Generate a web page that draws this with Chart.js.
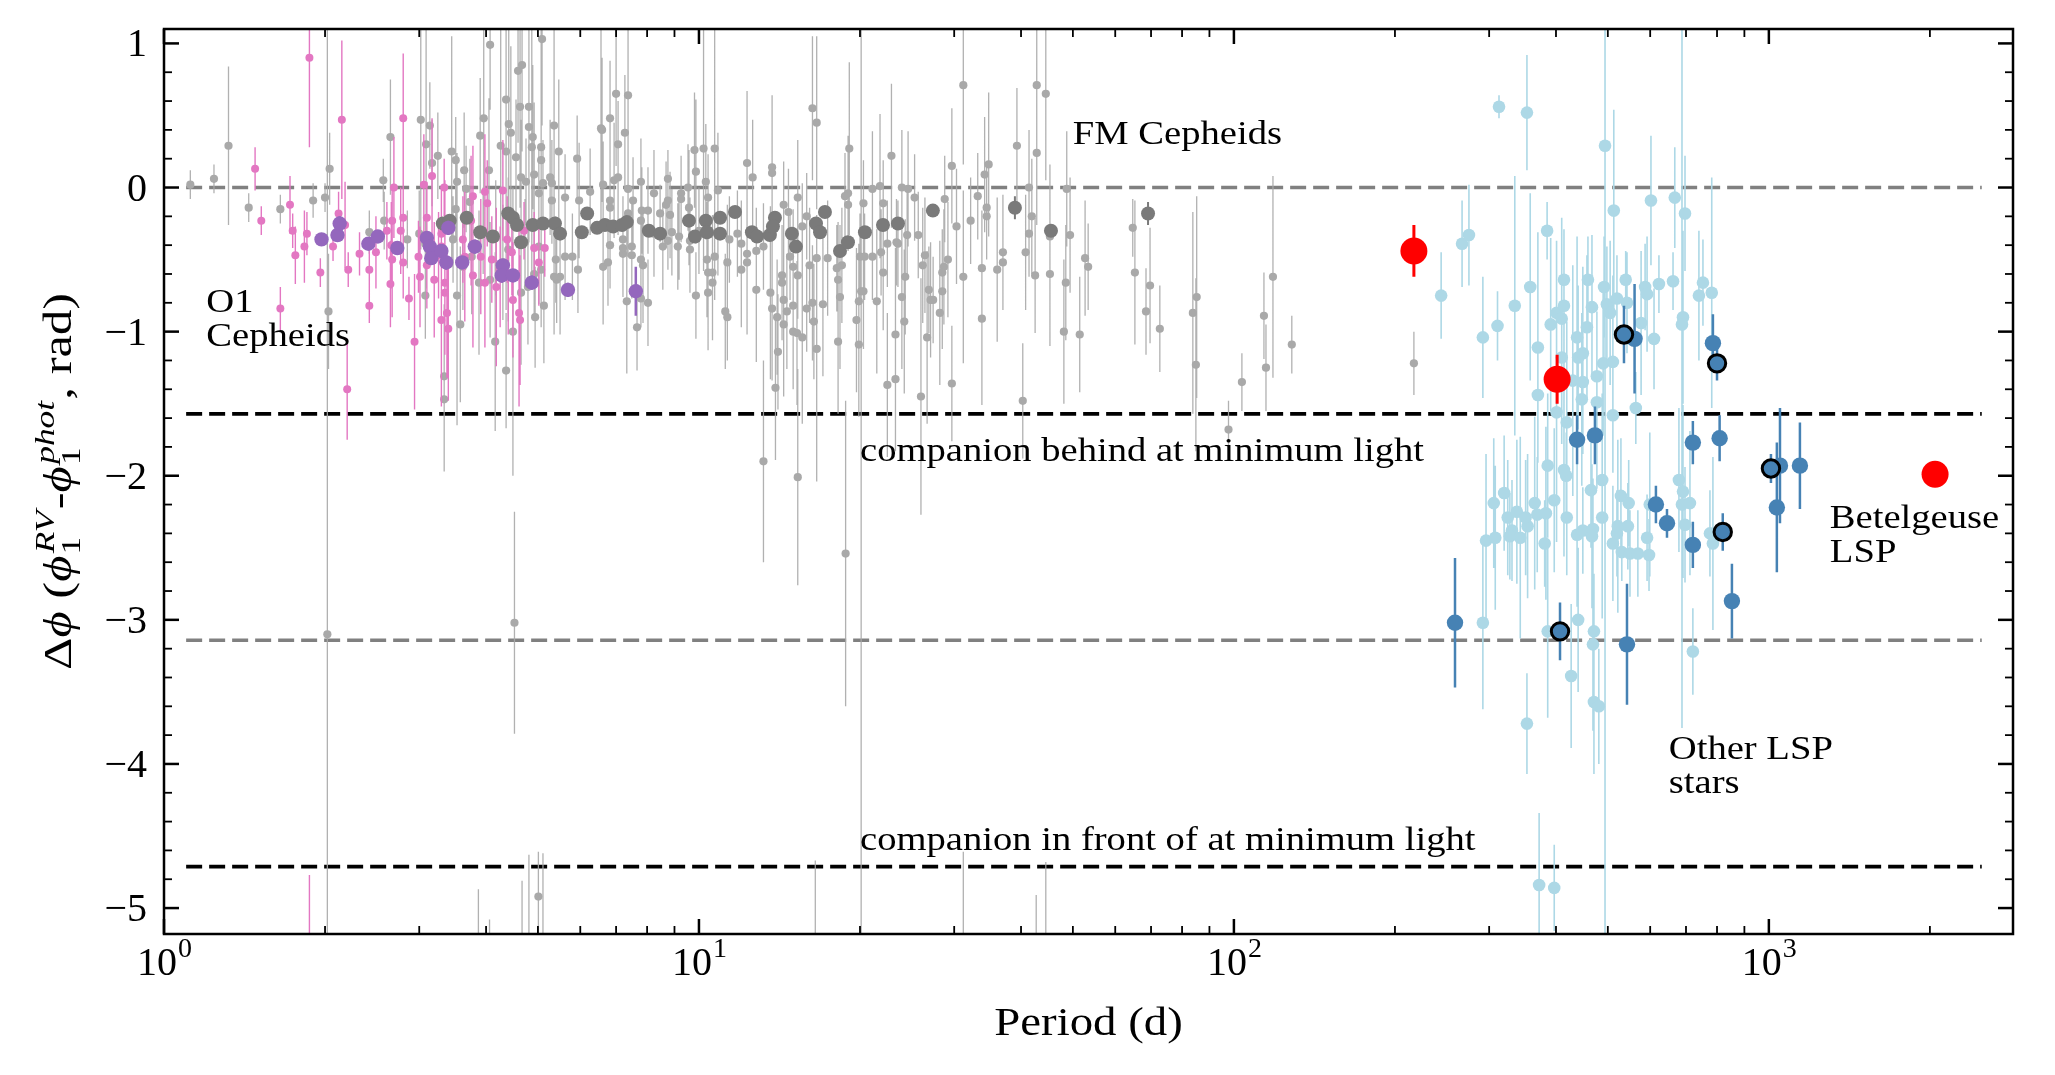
<!DOCTYPE html>
<html>
<head>
<meta charset="utf-8">
<title>Phase lag vs period</title>
<script src="https://cdn.jsdelivr.net/npm/chart.js@4.4.1/dist/chart.umd.min.js"></script>
<style>
  html, body { margin: 0; padding: 0; background: #fff; }
  canvas { display: block; }
</style>
</head>
<body>
<canvas id="chart" width="2055" height="1075"></canvas>
<script>
// --- DATA: each row is [period (d), delta phi (rad), error (rad)] ---

// FM Cepheids, single stars (light grey)
const fmStars = [
  [1.12,0.02,0.10],[1.24,0.06,0.10],[1.32,0.29,0.55],[1.44,-0.14,0.10],[1.65,-0.15,0.10],[1.90,-0.09,0.12],
  [2.00,-0.07,0.10],[2.04,0.13,0.25],[2.03,-0.86,0.40],[2.57,0.05,0.15],[2.65,0.35,0.40],[2.58,-0.23,0.20],
  [2.42,-0.31,0.15],[3.02,0.47,0.90],[3.14,0.43,0.30],[3.09,0.30,1.00],[3.25,0.22,0.30],[3.45,0.25,0.80],
  [3.51,0.19,0.30],[3.17,0.17,0.30],[3.08,-0.75,0.30],[3.53,-0.75,0.90],[3.58,-0.95,0.54],[3.34,-1.31,0.50],
  [3.34,-1.47,0.50],[4.07,0.99,0.45],[4.59,0.81,0.50],[4.67,0.85,0.60],[5.09,1.03,0.60],[4.36,0.61,0.60],
  [4.63,0.56,0.70],[4.81,0.56,0.60],[3.96,0.48,0.75],[4.41,0.44,1.00],[4.81,0.42,0.80],[3.90,0.36,0.40],
  [4.45,0.38,0.60],[5.36,0.43,0.75],[4.26,0.29,0.85],[4.36,0.25,1.10],[4.87,0.28,0.90],[5.07,0.28,0.85],
  [4.55,0.21,0.40],[5.07,0.19,0.90],[5.47,0.25,0.50],[5.92,0.20,0.30],[6.56,0.41,0.70],[6.82,0.48,0.40],
  [7.00,0.65,0.50],[7.37,0.64,0.60],[7.27,0.38,0.40],[7.06,0.30,0.30],[8.75,0.06,0.20],[9.81,0.26,0.40],
  [5.80,-0.48,0.30],[5.42,-0.64,0.30],[5.13,-0.82,0.40],[4.94,-0.90,0.35],[4.16,-1.07,0.62],[4.36,-1.27,0.40],
  [4.49,-1.00,1.00],[7.79,-0.77,0.20],[8.03,-0.80,0.30],[7.66,-0.97,0.30],[9.87,-0.75,0.30],[3.53,0.04,0.20],
  [3.67,-0.01,0.30],[3.73,-0.10,0.30],[3.51,-0.15,0.20],[4.65,0.07,0.40],[4.75,0.04,0.30],[4.92,0.09,0.50],
  [5.02,-0.04,0.30],[5.31,-0.09,0.30],[5.62,-0.07,0.30],[5.97,-0.09,0.40],[6.26,-0.03,0.30],[6.62,0.02,0.30],
  [6.94,0.05,0.40],[7.37,-0.01,0.20],[7.79,0.04,0.30],[8.24,-0.04,0.30],[8.75,-0.09,0.30],[9.26,-0.04,0.20],
  [9.54,0.00,0.30],[7.37,-0.18,0.30],[7.79,-0.23,0.30],[8.24,-0.32,0.30],[8.75,-0.37,0.20],[9.62,-0.37,0.30],
  [7.21,-0.46,0.30],[7.79,-0.50,0.30],[8.56,-0.41,0.30],[4.73,-0.38,0.30],[5.02,-0.41,0.40],[5.40,-0.50,0.30],
  [5.36,-0.62,0.40],[5.62,-0.48,0.30],[3.95,-0.30,0.30],[4.17,-0.35,0.40],[4.40,-0.43,0.50],[4.30,-0.52,0.40],
  [3.62,-0.55,0.30],[3.76,-0.48,0.40],[3.88,-0.66,0.50],[4.07,-0.64,0.40],[4.65,-0.73,0.50],[4.79,-0.69,0.40],
  [4.92,-0.60,0.30],[5.07,-0.57,0.40],[2.85,-0.36,0.20],[3.00,-0.32,0.30],[3.08,-0.39,0.20],[3.47,-0.36,0.30],
  [6.59,0.40,0.50],[7.06,0.07,0.40],[9.26,-0.08,0.30],[9.58,-0.14,0.40],[10.2,0.27,0.85],[10.7,0.27,0.85],
  [9.87,0.11,0.50],[10.3,0.04,0.40],[8.68,-0.12,0.30],[8.46,-0.18,0.20],[8.83,-0.19,0.30],[6.82,-0.09,0.30],
  [6.82,-0.14,0.30],[7.53,-0.09,0.30],[7.82,-0.16,0.30],[8.03,-0.16,0.30],[6.62,-0.55,0.40],[6.76,-0.52,0.30],
  [7.33,-0.79,0.50],[7.86,-0.54,0.40],[7.21,-0.42,0.30],[7.49,-0.47,0.30],[6.82,-0.40,0.30],[7.21,-0.36,0.30],
  [7.49,-0.41,0.30],[9.13,-0.41,0.30],[9.62,-0.43,0.30],[9.18,-0.34,0.30],[8.90,-0.31,0.30],[10.4,-0.73,0.40],
  [10.35,-0.50,0.40],[10.7,-0.48,0.30],[10.4,-0.59,0.30],[10.6,-0.59,0.40],[10.6,-0.66,0.40],[11.2,-0.86,0.40],
  [11.3,-0.90,0.30],[11.3,-0.52,0.40],[10.4,-0.07,0.30],[10.85,-0.02,0.40],[11.4,-0.36,0.30],[11.8,-0.32,0.30],
  [12.0,-0.39,0.30],[12.3,0.17,0.50],[12.6,0.07,0.40],[12.3,-0.46,0.40],[12.3,-0.52,0.50],[12.0,-0.57,0.40],
  [12.8,-0.71,0.50],[12.8,-0.44,0.30],[13.2,-0.41,0.30],[13.7,0.14,0.50],[13.7,0.10,0.40],[13.6,-0.73,0.60],
  [13.7,-0.84,0.50],[14.0,-0.90,0.40],[14.05,-1.14,0.40],[14.3,-0.61,0.30],[14.3,-0.66,0.40],[14.4,-0.78,0.50],
  [14.6,-0.86,0.40],[14.4,-0.95,0.50],[15.0,-0.82,0.50],[15.0,-1.00,0.40],[15.25,-1.01,0.50],[15.6,-1.04,0.60],
  [14.8,-0.48,0.30],[15.0,-0.55,0.40],[15.3,-0.61,0.30],[14.4,-0.12,0.30],[14.7,-0.17,0.30],[15.3,-0.07,0.40],
  [15.6,-0.27,0.30],[15.9,-0.20,0.30],[16.1,-0.54,0.40],[16.6,-0.49,0.30],[17.05,-0.81,0.50],[16.4,-0.93,0.40],
  [16.6,-1.12,0.92],[15.9,-0.84,0.30],[16.3,-0.80,0.40],[17.4,-0.49,0.40],[18.1,-0.56,0.30],[18.2,-0.64,0.40],
  [18.35,-0.76,0.50],[18.2,-1.07,0.50],[18.5,-0.54,0.40],[16.3,0.55,0.50],[16.6,0.45,0.60],[19.1,0.27,0.60],
  [19.0,-0.04,0.40],[19.0,-0.12,0.30],[20.3,-0.11,0.30],[19.7,-0.92,0.50],[19.9,-0.79,0.40],[20.3,-0.72,0.40],
  [19.9,-1.09,0.50],[20.1,-0.72,6.00],[21.5,-0.79,0.50],[21.1,-0.01,0.40],[22.1,-0.11,0.30],[21.8,0.01,0.50],
  [20.0,-0.48,0.30],[20.4,-0.48,0.30],[21.1,-0.48,0.30],[21.9,-0.45,0.30],[22.5,-0.39,0.30],[23.4,-0.38,0.30],
  [22.9,0.22,0.50],[23.95,0.00,0.40],[24.6,-0.01,0.40],[25.3,-0.07,0.30],[25.7,-0.33,0.30],[23.95,-0.76,0.50],
  [24.2,-0.93,0.50],[23.3,-1.02,0.60],[23.55,-0.39,0.30],[24.5,-0.33,0.30],[26.2,-0.54,0.40],[26.45,-0.47,0.40],
  [26.7,-1.04,0.60],[31.2,0.71,0.55],[42.8,0.71,0.60],[44.5,0.65,0.60],[39.3,0.29,0.40],[42.8,0.24,0.50],
  [34.8,0.16,0.50],[34.2,0.09,0.40],[29.7,0.15,0.40],[33.2,-0.06,0.30],[34.5,-0.14,0.30],[34.5,-0.20,0.30],
  [41.4,0.00,0.40],[41.9,-0.20,0.40],[41.4,-0.32,0.30],[40.8,-0.45,0.40],[42.5,-0.61,0.40],[45.3,-0.60,0.50],
  [48.7,-0.01,0.40],[49.4,-0.33,0.40],[48.5,-0.66,0.40],[48.1,-1.00,0.50],[51.5,-1.02,0.40],[52.7,-0.49,0.40],
  [53.4,-0.55,0.30],[40.3,-1.48,0.40],[64.7,-0.28,0.20],[65.3,-0.59,0.50],[69.7,-0.68,0.40],[68.5,-0.86,0.30],
  [72.7,-0.98,0.30],[83.8,-0.87,0.70],[85.2,-0.76,0.70],[84.9,-1.23,0.60],[97.7,-1.68,0.20],[103.5,-1.35,0.20],
  [113.8,-0.89,0.30],[114.8,-1.25,0.30],[118.3,-0.62,0.70],[128.3,-1.09,0.20],[31.2,-0.62,0.60],[33.8,-0.91,0.60],
  [29.7,-1.36,0.40],[26.0,-1.45,0.82],[22.5,-1.37,0.50],[23.3,-1.33,0.50],[13.2,-1.90,0.70],[13.9,-1.39,0.50],
  [15.3,-2.01,0.75],[24.3,-0.62,0.40],[27.1,-0.78,0.40],[26.9,-0.71,0.30],[28.2,-0.87,0.50],[28.5,-0.72,0.40],
  [22.1,-0.59,0.40],[18.75,-0.06,0.30],[10.85,-0.31,0.30],[10.0,-0.30,0.30],[28.8,-0.08,0.30],[30.3,-0.27,0.40],
  [32.2,-0.23,0.30],[29.2,-0.50,0.40],[28.7,-0.55,0.40],[28.5,-0.59,0.30],[27.4,-0.78,0.30],[33.8,-0.56,0.40],
  [36.1,-0.57,0.50],[37.0,-0.52,0.30],[37.0,-0.45,0.40],[45.3,-0.34,0.50],[217,-1.22,0.22],
  [3.64,0.12,0.40],[4.05,0.12,0.50],[4.89,0.35,0.50],[5.27,0.07,0.40],[5.11,0.03,0.30],[5.31,0.03,0.30],
  [5.94,-0.57,0.30],[5.50,-0.62,0.40],
  [2.02,-3.10,6.00],[4.52,-3.02,0.77],[5.01,-4.92,0.31],[18.8,-2.54,1.06],
  [3.87,-5.6,0.73],[4.06,-5.5,0.42],[4.67,-5.6,0.79],[4.81,-5.5,0.87],[5.11,-5.6,0.98],[16.5,-5.7,1.03],
  [31.2,-5.6,0.99],[42.7,-5.6,0.69],[44.5,-5.7,1.02]
];

// O1 Cepheids, single stars (pink)
const o1Stars = [
  [1.87,0.90,0.62],[2.15,0.47,0.55],[2.80,0.48,0.45],[1.48,0.13,0.15],[1.72,-0.12,0.20],[1.52,-0.23,0.10],
  [1.74,-0.30,0.12],[1.85,-0.32,0.15],[1.83,-0.41,0.25],[1.76,-0.47,0.20],[1.96,-0.59,0.10],[2.07,-0.41,0.10],
  [2.12,-0.18,0.15],[2.18,-0.26,0.30],[2.21,-0.57,0.12],[2.32,-0.46,0.15],[2.42,-0.57,0.20],[2.49,-0.45,0.25],
  [2.42,-0.82,0.12],[1.65,-0.84,0.15],[2.87,-0.77,0.15],[2.20,-1.40,0.35],[2.94,-1.07,0.47],[2.67,-0.23,0.25],
  [2.77,-0.30,0.30],[2.80,-0.21,0.35],[2.61,-0.30,0.20],[2.66,-0.40,0.30],[2.67,-0.50,0.40],[2.80,-0.52,0.25],
  [2.65,-0.67,0.30],[3.06,0.02,0.35],[3.17,0.08,0.40],[3.34,0.00,0.20],[3.10,-0.21,0.25],[3.30,-0.32,0.30],
  [3.30,-0.41,0.40],[3.35,-0.30,0.35],[3.62,-0.36,0.30],[2.99,-0.48,0.25],[3.10,-0.54,0.30],[3.26,-0.47,0.30],
  [3.20,-0.64,0.40],[3.35,-0.66,0.50],[3.35,-0.73,0.40],[3.30,-0.92,0.60],[3.38,-0.87,0.45],[3.40,-0.98,0.50],
  [3.78,-0.06,0.35],[3.75,-0.23,0.45],[3.98,-0.03,0.40],[4.02,-0.11,0.30],[4.30,-0.02,0.35],[3.65,-0.48,0.45],
  [3.78,-0.61,0.50],[3.91,-0.48,0.40],[3.98,-0.66,0.45],[4.10,-0.50,0.30],[4.18,-0.69,0.55],[4.40,-0.62,0.40],
  [4.47,-0.45,0.30],[4.61,-0.87,0.65],[4.63,-0.92,0.45],[4.71,-0.30,0.20],[4.92,-0.42,0.25],[5.02,-0.52,0.30],
  [5.15,-0.42,0.20],[2.69,0.00,0.35],[3.01,-0.62,0.35],[4.38,-0.36,0.30],[4.25,-0.62,0.35],[4.49,-0.78,0.40],
  [1.87,-5.6,0.83]
];

// FM Cepheids, averaged (dark grey)
const fmMeans = [
  [3.32,-0.25,0.04],[3.42,-0.23,0.04],[3.68,-0.21,0.04],[3.90,-0.31,0.04],[4.12,-0.34,0.04],[4.40,-0.18,0.04],
  [4.49,-0.21,0.04],[4.57,-0.26,0.04],[4.65,-0.38,0.04],[4.89,-0.26,0.04],[5.11,-0.25,0.04],[5.38,-0.25,0.04],
  [5.50,-0.32,0.04],[6.04,-0.31,0.04],[6.18,-0.18,0.04],[6.45,-0.28,0.04],[6.67,-0.26,0.04],[6.91,-0.27,0.04],
  [7.18,-0.26,0.04],[7.33,-0.24,0.04],[8.06,-0.30,0.04],[8.46,-0.32,0.04],[9.58,-0.23,0.04],[9.83,-0.34,0.04],
  [10.3,-0.23,0.04],[10.35,-0.31,0.04],[10.95,-0.21,0.04],[10.95,-0.32,0.04],[11.68,-0.17,0.04],[12.56,-0.31,0.04],
  [12.84,-0.34,0.04],[13.57,-0.33,0.04],[13.87,-0.21,0.04],[13.75,-0.27,0.04],[14.92,-0.32,0.04],[15.18,-0.41,0.04],
  [16.55,-0.25,0.04],[17.2,-0.17,0.04],[16.84,-0.31,0.04],[18.35,-0.44,0.04],[18.99,-0.38,0.04],[20.43,-0.31,0.04],
  [22.08,-0.26,0.04],[23.55,-0.25,0.04],[27.37,-0.16,0.04],[38.96,-0.14,0.08],[45.5,-0.30,0.04],[69.1,-0.18,0.08]
];

// O1 Cepheids, averaged (purple)
const o1Means = [
  [1.97,-0.36,0.04],[2.11,-0.33,0.04],[2.13,-0.25,0.05],[2.41,-0.39,0.04],[2.51,-0.34,0.04],[2.73,-0.42,0.04],
  [3.10,-0.35,0.04],[3.14,-0.41,0.05],[3.16,-0.49,0.04],[3.30,-0.44,0.04],[3.37,-0.52,0.05],[3.40,-0.28,0.05],
  [3.61,-0.52,0.04],[3.81,-0.41,0.05],[4.30,-0.54,0.04],[4.28,-0.61,0.05],[4.49,-0.61,0.04],[4.87,-0.66,0.05],
  [5.69,-0.71,0.05],[7.62,-0.72,0.17]
];

// Other LSP stars (light blue)
const lspOther = [
  [244,-0.75,0.30],[267,-0.39,0.30],[275,-0.33,0.35],[292,-1.04,0.42],[311,-0.96,0.24],[335,-0.82,0.90],
  [358,-0.69,0.65],[370,-1.11,0.80],[370,-1.44,0.30],[385,-0.30,0.20],[391,-0.95,0.60],[401,-0.87,0.50],
  [410,-0.91,0.70],[414,-0.64,0.35],[414,-0.82,0.50],[401,-1.56,0.90],[410,-1.18,0.60],[438,-1.04,0.70],
  [440,-1.18,0.50],[449,-1.15,0.60],[457,-0.97,0.50],[459,-0.64,0.30],[467,-0.83,0.50],[430,-1.34,0.80],
  [449,-1.35,0.50],[447,-1.47,0.60],[477,-1.31,0.45],[477,-1.49,0.60],[492,-0.69,0.35],[490,-1.22,0.50],
  [511,-1.21,0.60],[498,-0.81,0.40],[505,-0.87,0.50],[520,-0.77,0.30],[513,-0.16,0.70],[540,-0.64,0.20],
  [543,-0.80,0.35],[577,-0.94,0.50],[587,-0.69,0.30],[592,-0.74,0.40],[602,-0.09,0.45],[610,-1.05,0.35],
  [623,-0.67,0.20],[564,-1.53,0.25],[511,-1.58,0.40],[662,-0.65,0.20],[667,-0.07,0.35],[697,-0.18,0.40],
  [691,-0.90,0.60],[688,-0.95,2.80],[740,-0.75,0.45],[753,-0.66,0.30],[782,-0.73,0.80],
  [313,0.56,0.08],[353,0.52,0.40],[494,0.29,6.00],
  [306,-2.19,0.45],[320,-2.12,0.40],[296,-2.45,0.60],[308,-2.43,0.50],[325,-2.29,0.40],[338,-2.25,0.50],
  [331,-2.38,0.35],[328,-2.42,0.30],[343,-2.43,0.70],[354,-2.35,0.50],[351,-2.29,0.40],[365,-2.19,0.60],
  [369,-2.27,0.40],[383,-2.26,0.60],[381,-2.47,0.30],[397,-2.17,0.50],[418,-2.00,0.30],[419,-2.29,0.40],
  [438,-2.41,0.50],[449,-2.38,0.30],[465,-2.10,0.40],[467,-2.42,0.50],[469,-2.37,0.35],[488,-2.03,0.60],
  [488,-2.29,0.70],[511,-2.47,0.40],[520,-2.40,0.30],[522,-2.35,0.60],[529,-2.14,0.40],[545,-2.35,0.30],
  [547,-2.19,0.30],[531,-2.53,0.20],[550,-2.54,0.30],[569,-2.54,0.30],[597,-2.55,0.25],[592,-2.43,0.30],
  [599,-2.20,0.50],[679,-2.03,0.50],[691,-2.11,0.60],[688,-2.20,0.40],[712,-2.19,0.50],[697,-2.34,0.40],
  [776,-2.40,0.30],[786,-2.47,0.60],
  [292,-3.02,0.60],[386,-3.08,0.60],[440,-3.00,0.50],[471,-3.08,0.40],[469,-3.17,0.60],[427,-3.39,0.50],
  [471,-3.57,0.50],[481,-3.60,0.40],[353,-3.72,0.35],[721,-3.22,0.30],[372,-4.84,0.50],[397,-4.86,0.30],
  [386,-1.93,0.50],[414,-1.96,0.60],[419,-1.63,0.70]
];

// LSP stars with strong detections (steel blue)
const lspStrong = [
  [259,-3.02,0.45],[543,-3.17,0.42],[561,-1.05,0.38],[786,-1.08,0.20],[438,-1.75,0.17],[473,-1.72,0.20],
  [721,-1.77,0.15],[809,-1.74,0.16],[1049,-1.93,0.40],[1143,-1.93,0.30],[1035,-2.22,0.45],[615,-2.20,0.13],
  [645,-2.33,0.10],[721,-2.48,0.16],[853,-2.87,0.26]
];

// the subset circled in black
const lspMarked = [
  [407,-3.08,0.20],[536,-1.02,0.20],[800,-1.22,0.12],[1009,-1.95,0.10],[820,-2.39,0.13]
];

// Betelgeuse LSP (red)
const betelgeuse = [[217,-0.44,0.18],[402,-1.33,0.17],[2045,-1.99,0]];

// reference levels: 0, -pi/2, -pi, -3pi/2
const refLevels = [0, -Math.PI / 2, -Math.PI, -3 * Math.PI / 2];
const refColors = ['#808080', '#000000', '#808080', '#000000'];
const refSpan = [1.1, 2500];

const xMajorTicks = [1, 10, 100, 1000];
const xTickExponents = ['0', '1', '2', '3'];
const yMajorTicks = [1, 0, -1, -2, -3, -4, -5];

const notes = [
  { lines: ['FM Cepheids'], x: 50, y: 0.3 },
  { lines: ['O1', 'Cepheids'], x: 1.2, y: -1.1 },
  { lines: ['companion behind at minimum light'], x: 20, y: -1.9 },
  { lines: ['companion in front of at minimum light'], x: 20, y: -4.6 },
  { lines: ['Betelgeuse', 'LSP'], x: 1300, y: -2.6 },
  { lines: ['Other LSP', 'stars'], x: 650, y: -4.2 }
];

// --- STYLE ---
const SERIF = '"Liberation Serif", "DejaVu Serif", serif';
const STRETCH = 1.17;
const font = (size, italic) => (italic ? 'italic ' : '') + size + 'px ' + SERIF;

const toPoints = rows => rows.map(([x, y, e]) => ({ x, y, e }));

const series = (rows, o) => Object.assign({
  data: toPoints(rows),
  showLine: false,
  pointStyle: 'circle',
  pointBorderWidth: 0,
  pointHoverRadius: 0
}, o);

const datasets = [
  series(fmStars,   { order: 9, pointRadius: 4.1, pointBackgroundColor: '#a9a9a9', pointBorderColor: '#a9a9a9', errColor: 'rgba(169,169,169,0.9)', errWidth: 1.3 }),
  series(o1Stars,   { order: 8, pointRadius: 4.0, pointBackgroundColor: '#e377c2', pointBorderColor: '#e377c2', errColor: '#e377c2', errWidth: 1.4 }),
  series(fmMeans,   { order: 7, pointRadius: 7,   pointBackgroundColor: '#7a7a7a', pointBorderColor: '#7a7a7a', errColor: '#7a7a7a', errWidth: 2 }),
  series(o1Means,   { order: 6, pointRadius: 7.2, pointBackgroundColor: '#9467bd', pointBorderColor: '#9467bd', errColor: '#9467bd', errWidth: 2.5 }),
  series(lspOther,  { order: 5, pointRadius: 6.3, pointBackgroundColor: '#add8e6', pointBorderColor: '#add8e6', errColor: '#add8e6', errWidth: 1.6 }),
  series(lspStrong, { order: 4, pointRadius: 8.2, pointBackgroundColor: '#4682b4', pointBorderColor: '#4682b4', errColor: '#4682b4', errWidth: 2.5 }),
  series(lspMarked, { order: 3, pointRadius: 8.7, pointBackgroundColor: '#4682b4', pointBorderColor: '#000000', pointBorderWidth: 3, errColor: '#4682b4', errWidth: 2.5 }),
  series(betelgeuse,{ order: 2, pointRadius: 13.5, pointBackgroundColor: '#ff0000', pointBorderColor: '#ff0000', errColor: '#ff0000', errWidth: 3 })
];

refLevels.forEach((lvl, i) => {
  datasets.push({
    data: refSpan.map(x => ({ x, y: lvl })),
    showLine: true,
    borderColor: refColors[i],
    borderWidth: 3.6,
    borderDash: [16, 7],
    pointRadius: 0,
    order: 20
  });
});

// error bars go under each series' own markers
const errorBars = {
  id: 'errorBars',
  beforeDatasetDraw(chart, args) {
    const ds = chart.data.datasets[args.index];
    if (!ds.errColor) return;
    const { ctx, chartArea: a, scales: { y } } = chart;
    ctx.save();
    ctx.beginPath();
    ctx.rect(a.left, a.top, a.right - a.left, a.bottom - a.top);
    ctx.clip();
    ctx.strokeStyle = ds.errColor;
    ctx.lineWidth = ds.errWidth;
    ctx.beginPath();
    args.meta.data.forEach((pt, i) => {
      const d = ds.data[i];
      if (!d.e) return;
      ctx.moveTo(pt.x, y.getPixelForValue(d.y + d.e));
      ctx.lineTo(pt.x, y.getPixelForValue(d.y - d.e));
    });
    ctx.stroke();
    ctx.restore();
  }
};

function stretchedText(ctx, text, x, y, sx) {
  ctx.save();
  ctx.translate(x, y);
  ctx.scale(sx, 1);
  ctx.fillText(text, 0, 0);
  ctx.restore();
}

// spines, inward ticks, tick labels, axis labels and annotations
const frame = {
  id: 'frame',
  afterDraw(chart) {
    const { ctx, chartArea: a, scales: { x, y } } = chart;
    ctx.save();
    ctx.fillStyle = '#000';
    ctx.strokeStyle = '#000';

    // annotations
    ctx.font = font(33);
    ctx.textAlign = 'left';
    ctx.textBaseline = 'alphabetic';
    notes.forEach(n => {
      const px = x.getPixelForValue(n.x);
      const py = y.getPixelForValue(n.y);
      n.lines.forEach((line, i) => {
        stretchedText(ctx, line, px, py - (n.lines.length - 1 - i) * 34, STRETCH);
      });
    });

    // ticks
    const tick = (x1, y1, x2, y2, w) => {
      ctx.lineWidth = w;
      ctx.beginPath();
      ctx.moveTo(x1, y1);
      ctx.lineTo(x2, y2);
      ctx.stroke();
    };
    const MAJ = 15, MIN = 8;
    xMajorTicks.forEach(v => {
      const px = x.getPixelForValue(v);
      tick(px, a.bottom, px, a.bottom - MAJ, 2.5);
      tick(px, a.top, px, a.top + MAJ, 2.5);
      for (let m = 2; m <= 9; m++) {
        const mv = m * v;
        if (mv > x.max) break;
        const mp = x.getPixelForValue(mv);
        tick(mp, a.bottom, mp, a.bottom - MIN, 1.8);
        tick(mp, a.top, mp, a.top + MIN, 1.8);
      }
    });
    for (let k = Math.ceil(y.min * 5); k <= Math.floor(y.max * 5); k++) {
      const py = y.getPixelForValue(k / 5);
      const isMajor = k % 5 === 0;
      const len = isMajor ? MAJ : MIN;
      const w = isMajor ? 2.5 : 1.8;
      tick(a.left, py, a.left + len, py, w);
      tick(a.right, py, a.right - len, py, w);
    }

    // spines
    ctx.lineWidth = 2.5;
    ctx.strokeRect(a.left, a.top, a.right - a.left, a.bottom - a.top);

    // y tick labels
    ctx.font = font(40);
    ctx.textAlign = 'right';
    yMajorTicks.forEach(v => {
      const label = v < 0 ? '\u2212' + Math.abs(v) : String(v);
      ctx.fillText(label, a.left - 17, y.getPixelForValue(v) + 13);
    });

    // x tick labels: 10^k
    ctx.textAlign = 'left';
    xMajorTicks.forEach((v, i) => {
      const px = x.getPixelForValue(v);
      ctx.font = font(40);
      const wBase = ctx.measureText('10').width;
      ctx.font = font(28);
      const wExp = ctx.measureText(xTickExponents[i]).width;
      const left = px - (wBase + wExp) / 2;
      ctx.font = font(40);
      ctx.fillText('10', left, 975);
      ctx.font = font(28);
      ctx.fillText(xTickExponents[i], left + wBase + 1, 957);
    });

    // x axis label
    ctx.font = font(40);
    ctx.textAlign = 'center';
    stretchedText(ctx, 'Period (d)', (a.left + a.right) / 2, 1035, STRETCH);

    // y axis label: Δϕ (ϕ_1^RV - ϕ_1^phot, rad)
    const parts = [
      { t: '\u0394' }, { t: '\u03d5', it: true }, { t: ' (' }, { t: '\u03d5', it: true },
      { sub: '1', sup: 'RV' }, { t: '-' }, { t: '\u03d5', it: true },
      { sub: '1', sup: 'phot' }, { t: ', rad)' }
    ];
    ctx.textAlign = 'left';
    let total = 0;
    parts.forEach(p => {
      if (p.t) {
        ctx.font = font(40, p.it);
        p.w = ctx.measureText(p.t).width;
      } else {
        ctx.font = font(28);
        const ws = ctx.measureText(p.sub).width;
        ctx.font = font(28, true);
        const wp = ctx.measureText(p.sup).width;
        p.w = Math.max(ws, wp) + 3;
      }
      total += p.w;
    });
    const targetLen = 377;
    ctx.save();
    ctx.translate(71, (a.top + a.bottom) / 2);
    ctx.rotate(-Math.PI / 2);
    ctx.scale(targetLen / total, 1);
    let cx = -total / 2;
    parts.forEach(p => {
      if (p.t) {
        ctx.font = font(40, p.it);
        ctx.fillText(p.t, cx, 0);
      } else {
        ctx.font = font(28);
        ctx.fillText(p.sub, cx + 1, 9);
        ctx.font = font(28, true);
        ctx.fillText(p.sup, cx + 2, -17);
      }
      cx += p.w;
    });
    ctx.restore();

    ctx.restore();
  }
};

new Chart(document.getElementById('chart'), {
  type: 'scatter',
  data: { datasets },
  options: {
    responsive: false,
    animation: false,
    events: [],
    layout: { padding: { top: 29, right: 42, left: 0, bottom: 0 } },
    plugins: { legend: { display: false }, tooltip: { enabled: false } },
    scales: {
      x: {
        type: 'logarithmic', min: 1, max: 2860, bounds: 'data',
        ticks: { display: false }, grid: { display: false }, border: { display: false },
        afterFit(s) { s.height = 141; }
      },
      y: {
        type: 'linear', min: -5.18, max: 1.1, bounds: 'data',
        ticks: { display: false }, grid: { display: false }, border: { display: false },
        afterFit(s) { s.width = 164; }
      }
    }
  },
  plugins: [errorBars, frame]
});
</script>
</body>
</html>
